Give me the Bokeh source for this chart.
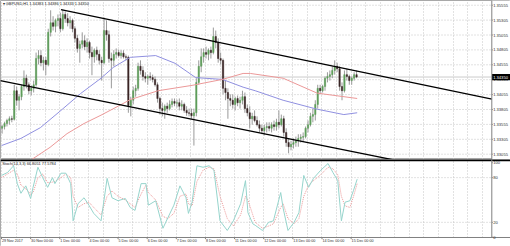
from bokeh.plotting import figure
from bokeh.layouts import column
from bokeh.models import Range1d, FixedTicker, Grid, ColumnDataSource
from bokeh.core.properties import value
from bokeh.embed import file_html
from bokeh.resources import INLINE

# ---------------- data ----------------
symbol_text = "\u25be GBPUSD,H1  1.34383 1.34386 1.34333 1.34350"
stoch_text = "Stoch(14,3,3) 66.8051 77.5784"
last_price_text = "1.34350"
last_price = 1.3435

day_labels = ["29 Nov 2017", "30 Nov 00:00", "1 Dec 00:00", "4 Dec 00:00", "5 Dec 00:00",
              "6 Dec 00:00", "7 Dec 00:00", "8 Dec 00:00", "11 Dec 00:00", "12 Dec 00:00",
              "13 Dec 00:00", "14 Dec 00:00", "15 Dec 00:00"]
day_start_hours = [0, 24, 48, 72, 96, 120, 144, 168, 192, 216, 240, 264, 288]

price_ticks = [1.35555, 1.35305, 1.35055, 1.34805, 1.34555, 1.34305, 1.34055,
               1.33805, 1.33555, 1.33305, 1.33055]
price_tick_labels = ["1.35555", "1.35305", "1.35055", "1.34805", "1.34555", "1.34305", "1.34055",
                     "1.33805", "1.33555", "1.33305", "1.33055"]
stoch_ticks = [100, 80, 20, 0]
stoch_tick_labels = ["100", "80", "20", "0"]

# 2-hour candles
opens = [1.3349,1.3352,1.3357,1.3362,1.3365,1.3364,1.3412,1.3396,1.3402,1.3419,
         1.3433,1.3422,1.3412,1.3416,1.3422,1.3466,1.3471,1.3459,1.3463,1.3456,
         1.3510,1.3526,1.3520,1.3530,1.3533,1.3516,1.3540,1.3533,1.3526,1.3530,
         1.3516,1.3500,1.3483,1.3490,1.3496,1.3486,1.3493,1.3476,1.3469,1.3480,
         1.3473,1.3463,1.3459,1.3513,1.3506,1.3466,1.3463,1.3473,1.3476,1.3471,
         1.3475,1.3469,1.3468,1.3387,1.3396,1.3412,1.3416,1.3453,1.3446,1.3436,
         1.3433,1.3436,1.3434,1.3431,1.3422,1.3399,1.3382,1.3379,1.3386,1.3382,
         1.3389,1.3394,1.3391,1.3392,1.3386,1.3389,1.3379,1.3375,1.3374,1.3370,
         1.3375,1.3426,1.3453,1.3469,1.3476,1.3473,1.3480,1.3476,1.3503,1.3493,
         1.3466,1.3463,1.3416,1.3409,1.3399,1.3396,1.3389,1.3399,1.3392,1.3396,
         1.3402,1.3382,1.3375,1.3365,1.3369,1.3362,1.3355,1.3349,1.3345,1.3350,
         1.3352,1.3349,1.3355,1.3352,1.3359,1.3355,1.3365,1.3342,1.3325,1.3318,
         1.3322,1.3325,1.3328,1.3332,1.3334,1.3335,1.3349,1.3355,1.3369,1.3372,
         1.3389,1.3416,1.3412,1.3419,1.3433,1.3436,1.3439,1.3446,1.3453,1.3449,
         1.3419,1.3412,1.3439,1.3436,1.3429,1.3433,1.3439]
highs = [1.3355,1.3360,1.3365,1.3369,1.3370,1.3422,1.3419,1.3406,1.3422,1.3446,
         1.3439,1.3426,1.3421,1.3429,1.3476,1.3480,1.3480,1.3469,1.3469,1.3516,
         1.3547,1.3537,1.3533,1.3540,1.3543,1.3548,1.3545,1.3542,1.3537,1.3533,
         1.3520,1.3506,1.3496,1.3510,1.3505,1.3500,1.3496,1.3486,1.3483,1.3486,
         1.3480,1.3469,1.3535,1.3530,1.3513,1.3476,1.3480,1.3483,1.3481,1.3480,
         1.3480,1.3473,1.3471,1.3402,1.3419,1.3422,1.3459,1.3463,1.3453,1.3443,
         1.3439,1.3443,1.3439,1.3436,1.3426,1.3402,1.3392,1.3389,1.3392,1.3396,
         1.3399,1.3399,1.3397,1.3399,1.3396,1.3392,1.3386,1.3382,1.3382,1.3382,
         1.3433,1.3463,1.3483,1.3483,1.3486,1.3483,1.3486,1.3518,1.3513,1.3500,
         1.3476,1.3466,1.3429,1.3416,1.3406,1.3406,1.3402,1.3404,1.3402,1.3412,
         1.3409,1.3389,1.3386,1.3375,1.3379,1.3369,1.3362,1.3355,1.3355,1.3359,
         1.3359,1.3359,1.3362,1.3365,1.3379,1.3372,1.3370,1.3349,1.3332,1.3328,
         1.3332,1.3335,1.3339,1.3339,1.3342,1.3352,1.3362,1.3375,1.3382,1.3396,
         1.3422,1.3422,1.3422,1.3436,1.3443,1.3446,1.3453,1.3463,1.3459,1.3453,
         1.3426,1.3446,1.3449,1.3439,1.3436,1.3443,1.3446]
lows = [1.3340,1.3347,1.3352,1.3355,1.3359,1.3362,1.3387,1.3379,1.3396,1.3412,
        1.3416,1.3406,1.3404,1.3409,1.3419,1.3456,1.3453,1.3446,1.3438,1.3453,
        1.3503,1.3513,1.3510,1.3520,1.3510,1.3513,1.3526,1.3520,1.3516,1.3510,
        1.3493,1.3476,1.3459,1.3483,1.3480,1.3476,1.3466,1.3438,1.3459,1.3463,
        1.3456,1.3429,1.3456,1.3496,1.3459,1.3416,1.3453,1.3466,1.3468,1.3466,
        1.3466,1.3463,1.3375,1.3369,1.3389,1.3402,1.3412,1.3439,1.3429,1.3426,
        1.3422,1.3429,1.3426,1.3419,1.3392,1.3372,1.3369,1.3365,1.3375,1.3379,
        1.3384,1.3386,1.3384,1.3379,1.3379,1.3375,1.3370,1.3369,1.3365,1.3320,
        1.3369,1.3422,1.3443,1.3459,1.3466,1.3463,1.3466,1.3473,1.3483,1.3459,
        1.3456,1.3406,1.3396,1.3365,1.3386,1.3382,1.3379,1.3386,1.3382,1.3389,
        1.3375,1.3369,1.3349,1.3355,1.3359,1.3352,1.3342,1.3339,1.3337,1.3342,
        1.3344,1.3342,1.3345,1.3345,1.3349,1.3352,1.3335,1.3318,1.3307,1.3312,
        1.3315,1.3318,1.3318,1.3325,1.3327,1.3332,1.3342,1.3352,1.3359,1.3362,
        1.3382,1.3406,1.3409,1.3412,1.3426,1.3429,1.3433,1.3439,1.3443,1.3412,
        1.3396,1.3409,1.3429,1.3422,1.3422,1.3429,1.3433]
closes = [1.3352,1.3357,1.3362,1.3365,1.3364,1.3412,1.3396,1.3402,1.3419,1.3433,
          1.3422,1.3412,1.3416,1.3422,1.3466,1.3471,1.3459,1.3463,1.3456,1.3510,
          1.3526,1.3520,1.3530,1.3533,1.3516,1.3540,1.3533,1.3526,1.3530,1.3516,
          1.3500,1.3483,1.3490,1.3496,1.3486,1.3493,1.3476,1.3469,1.3480,1.3473,
          1.3463,1.3459,1.3513,1.3506,1.3466,1.3463,1.3473,1.3476,1.3471,1.3475,
          1.3469,1.3468,1.3387,1.3396,1.3412,1.3416,1.3453,1.3446,1.3436,1.3433,
          1.3436,1.3434,1.3431,1.3422,1.3399,1.3382,1.3379,1.3386,1.3382,1.3389,
          1.3394,1.3391,1.3392,1.3386,1.3389,1.3379,1.3375,1.3374,1.3370,1.3375,
          1.3426,1.3453,1.3469,1.3476,1.3473,1.3480,1.3476,1.3503,1.3493,1.3466,
          1.3463,1.3416,1.3409,1.3399,1.3396,1.3389,1.3399,1.3392,1.3396,1.3402,
          1.3382,1.3375,1.3365,1.3369,1.3362,1.3355,1.3349,1.3345,1.3350,1.3352,
          1.3349,1.3355,1.3352,1.3359,1.3355,1.3365,1.3342,1.3325,1.3318,1.3322,
          1.3325,1.3328,1.3332,1.3334,1.3335,1.3349,1.3355,1.3369,1.3372,1.3389,
          1.3416,1.3412,1.3419,1.3433,1.3436,1.3439,1.3446,1.3453,1.3449,1.3419,
          1.3412,1.3439,1.3436,1.3429,1.3433,1.3439,1.3435]

# moving averages (hour index, price)
ma_blue_hours = [0, 16, 32, 49, 65, 82, 92, 106, 127, 143, 160, 182, 199, 209, 232, 260, 282, 293]
ma_blue_vals = [1.3320, 1.3332, 1.3350, 1.3379, 1.3407, 1.3433, 1.3451, 1.3468, 1.3471, 1.3458,
                1.3434, 1.3431, 1.3418, 1.3412, 1.3396, 1.3381, 1.3372, 1.3375]
ma_red_hours = [20, 40, 54, 68, 82, 96, 106, 129, 157, 182, 199, 205, 232, 260, 293]
ma_red_vals = [1.3290, 1.3317, 1.3340, 1.3357, 1.3371, 1.3386, 1.3397, 1.3412, 1.3421, 1.3431,
               1.3441, 1.3441, 1.3433, 1.3408, 1.3399]

# channel trend lines
chan_upper_hours = [49, 404]
chan_upper_prices = [1.3548, 1.3398]
chan_lower_hours = [-1, 340]
chan_lower_prices = [1.3429, 1.3289]

# stochastic
stoch_hours = [0,5,10,13,16,20,24,26,30,34,38,42,44,49,53,57,59,63,68,72,76,82,87,91,96,
               102,106,110,115,119,121,127,133,137,142,147,152,154,157,161,166,171,175,180,186,
               191,197,201,203,207,209,215,220,224,230,232,236,241,245,249,253,257,263,269,273,
               277,280,283,287,290,293]
stoch_main = [83,87,96,72,59,69,52,67,94,80,67,80,72,86,86,72,22,45,53,43,32,22,79,53,49,
              52,40,36,72,72,43,49,12,26,43,69,53,32,47,96,94,96,90,22,9,22,45,76,33,18,
              16,9,20,22,60,39,9,20,33,83,67,79,90,99,87,76,22,47,49,63,78]
stoch_signal = [80,85,90,85,70,65,58,60,80,85,73,74,75,80,85,80,55,40,45,47,40,30,55,62,55,
                50,45,40,58,70,60,50,28,25,32,55,58,45,42,75,90,94,92,55,25,15,30,55,50,30,
                20,12,15,18,40,45,25,18,25,55,70,76,84,94,92,84,55,42,40,55,72]

# ---------------- layout / styles ----------------
FONT = value("Liberation Sans")
TXT = "#303030"
GRID_COLOR = "#c4c4c4"
AXIS_COLOR = "#808080"
bull_color = "#5e9e5a"
bear_color = "#3a2626"
wick_color = "#9a9a9a"

X_LO, X_HI = -0.824, 419.3          # whole window width (bars + price scale)
AXIS_X = 403.9                      # price-scale separator
LABEL_X = 405.0
grid_hours = list(range(0, 404, 12))

P_LO, P_HI = 1.32966, 1.35634       # main panel price span
S_LO, S_HI = -12.5, 104.4           # stochastic panel span (incl. date strip)
S_BOTTOM = -0.4

bar_x = [2 * j + 0.5 for j in range(len(closes))]
body_top = [max(o, c) for o, c in zip(opens, closes)]
body_bot = [min(o, c) for o, c in zip(opens, closes)]
body_col = [bull_color if c >= o else bear_color for o, c in zip(opens, closes)]
src = ColumnDataSource(dict(x=bar_x, h=highs, l=lows, top=body_top, bottom=body_bot, col=body_col))

x_range = Range1d(X_LO, X_HI)

# ---------------- main price panel ----------------
p = figure(width=510, height=159, x_range=x_range, y_range=Range1d(P_LO, P_HI),
           output_backend="svg", toolbar_location=None,
           x_axis_location=None, y_axis_location=None, min_border=0)
p.background_fill_color = "white"
p.border_fill_color = "white"
p.outline_line_color = "#a8a8a8"
p.grid.visible = False
p.add_layout(Grid(dimension=0, ticker=FixedTicker(ticks=grid_hours), grid_line_color=GRID_COLOR,
                  grid_line_dash="1 2", grid_line_width=1))
p.segment(x0=[X_LO] * len(price_ticks), x1=[AXIS_X] * len(price_ticks), y0=price_ticks,
          y1=price_ticks, line_color=GRID_COLOR, line_dash="1 2", line_width=1)
# ask line
p.segment(x0=[X_LO], x1=[AXIS_X], y0=[last_price], y1=[last_price], line_color="#cccccc",
          line_width=1)

p.segment(x0="x", y0="h", x1="x", y1="l", source=src, line_color=wick_color, line_width=1)
p.vbar(x="x", width=1.1, top="top", bottom="bottom", source=src, fill_color="col", line_color="col",
       line_width=0.5)

p.line(ma_blue_hours, ma_blue_vals, line_color="#9090e0", line_width=1)
p.line(ma_red_hours, ma_red_vals, line_color="#eb9898", line_width=1)
p.line(chan_upper_hours, chan_upper_prices, line_color="black", line_width=1.3)
p.line(chan_lower_hours, chan_lower_prices, line_color="black", line_width=1.3)

# price scale
p.rect(x=[(AXIS_X + X_HI) / 2], y=[(P_LO + P_HI) / 2], width=X_HI - AXIS_X, height=P_HI - P_LO,
       fill_color="white", line_color=None)
p.segment(x0=[AXIS_X], x1=[AXIS_X], y0=[P_LO], y1=[P_HI], line_color=AXIS_COLOR, line_width=1)
p.segment(x0=[AXIS_X] * len(price_ticks), x1=[AXIS_X + 0.8] * len(price_ticks), y0=price_ticks,
          y1=price_ticks, line_color=AXIS_COLOR, line_width=1)
p.text(x=[LABEL_X] * len(price_ticks), y=price_ticks, text=price_tick_labels, text_font=FONT,
       text_font_size=value("4.1px"), text_color=TXT, text_baseline="middle", text_align="left")
p.rect(x=[(AXIS_X + 0.3 + X_HI) / 2], y=[last_price], width=X_HI - AXIS_X - 0.3, height=0.00105,
       fill_color="black", line_color=None)
p.text(x=[LABEL_X], y=[last_price], text=[last_price_text], text_font=FONT,
       text_font_size=value("4.1px"), text_color="white", text_baseline="middle", text_align="left")

p.text(x=[1.0], y=[P_HI - 0.00012], text=[symbol_text], text_font=FONT,
       text_font_size=value("3.9px"), text_color="#202020", text_baseline="top", text_align="left")

# ---------------- stochastic panel ----------------
s = figure(width=510, height=87, x_range=x_range, y_range=Range1d(S_LO, S_HI),
           output_backend="svg", toolbar_location=None,
           x_axis_location=None, y_axis_location=None, min_border=0)
s.background_fill_color = "white"
s.border_fill_color = "white"
s.outline_line_color = "#a8a8a8"
s.grid.visible = False
s.add_layout(Grid(dimension=0, ticker=FixedTicker(ticks=grid_hours), grid_line_color=GRID_COLOR,
                  grid_line_dash="1 2", grid_line_width=1))
s.segment(x0=[X_LO, X_LO], x1=[AXIS_X, AXIS_X], y0=[20, 80], y1=[20, 80], line_color=GRID_COLOR,
          line_dash="1 2", line_width=1)

s.line(stoch_hours, stoch_signal, line_color="#eb9898", line_width=1, line_dash="1 1")
s.line(stoch_hours, stoch_main, line_color="#96d4cc", line_width=1)

# white strip for date labels below the panel
s.rect(x=[(X_LO + X_HI) / 2], y=[(S_LO + S_BOTTOM) / 2], width=X_HI - X_LO, height=S_BOTTOM - S_LO,
       fill_color="white", line_color=None)
s.rect(x=[(AXIS_X + X_HI) / 2], y=[(S_BOTTOM + S_HI) / 2], width=X_HI - AXIS_X,
       height=S_HI - S_BOTTOM, fill_color="white", line_color=None)
# separator on top, bottom border and scale line
s.segment(x0=[X_LO], x1=[X_HI], y0=[S_HI - 0.9], y1=[S_HI - 0.9], line_color="black", line_width=2)
s.segment(x0=[X_LO], x1=[X_HI], y0=[S_BOTTOM], y1=[S_BOTTOM], line_color=AXIS_COLOR, line_width=1)
s.segment(x0=[AXIS_X], x1=[AXIS_X], y0=[S_BOTTOM], y1=[S_HI], line_color=AXIS_COLOR, line_width=1)
s.segment(x0=[AXIS_X] * 4, x1=[AXIS_X + 0.8] * 4, y0=stoch_ticks, y1=stoch_ticks,
          line_color=AXIS_COLOR, line_width=1)
s.text(x=[LABEL_X] * 4, y=stoch_ticks, text=stoch_tick_labels, text_font=FONT,
       text_font_size=value("4.1px"), text_color=TXT, text_baseline="middle", text_align="left")

# date ticks and labels
s.segment(x0=day_start_hours, x1=day_start_hours, y0=[S_BOTTOM] * len(day_start_hours),
          y1=[S_BOTTOM - 2.2] * len(day_start_hours), line_color=AXIS_COLOR, line_width=1)
s.text(x=[h + 0.4 for h in day_start_hours], y=[S_BOTTOM - 2.6] * len(day_start_hours),
       text=day_labels, text_font=FONT, text_font_size=value("3.7px"), text_color=TXT,
       text_baseline="top", text_align="left")

s.text(x=[0.6], y=[S_HI - 2.6], text=[stoch_text], text_font=FONT, text_font_size=value("3.9px"),
       text_color="#202020", text_baseline="top", text_align="left")

layout = column(p, s, spacing=0)
open("out.html", "w").write(file_html(layout, INLINE))
